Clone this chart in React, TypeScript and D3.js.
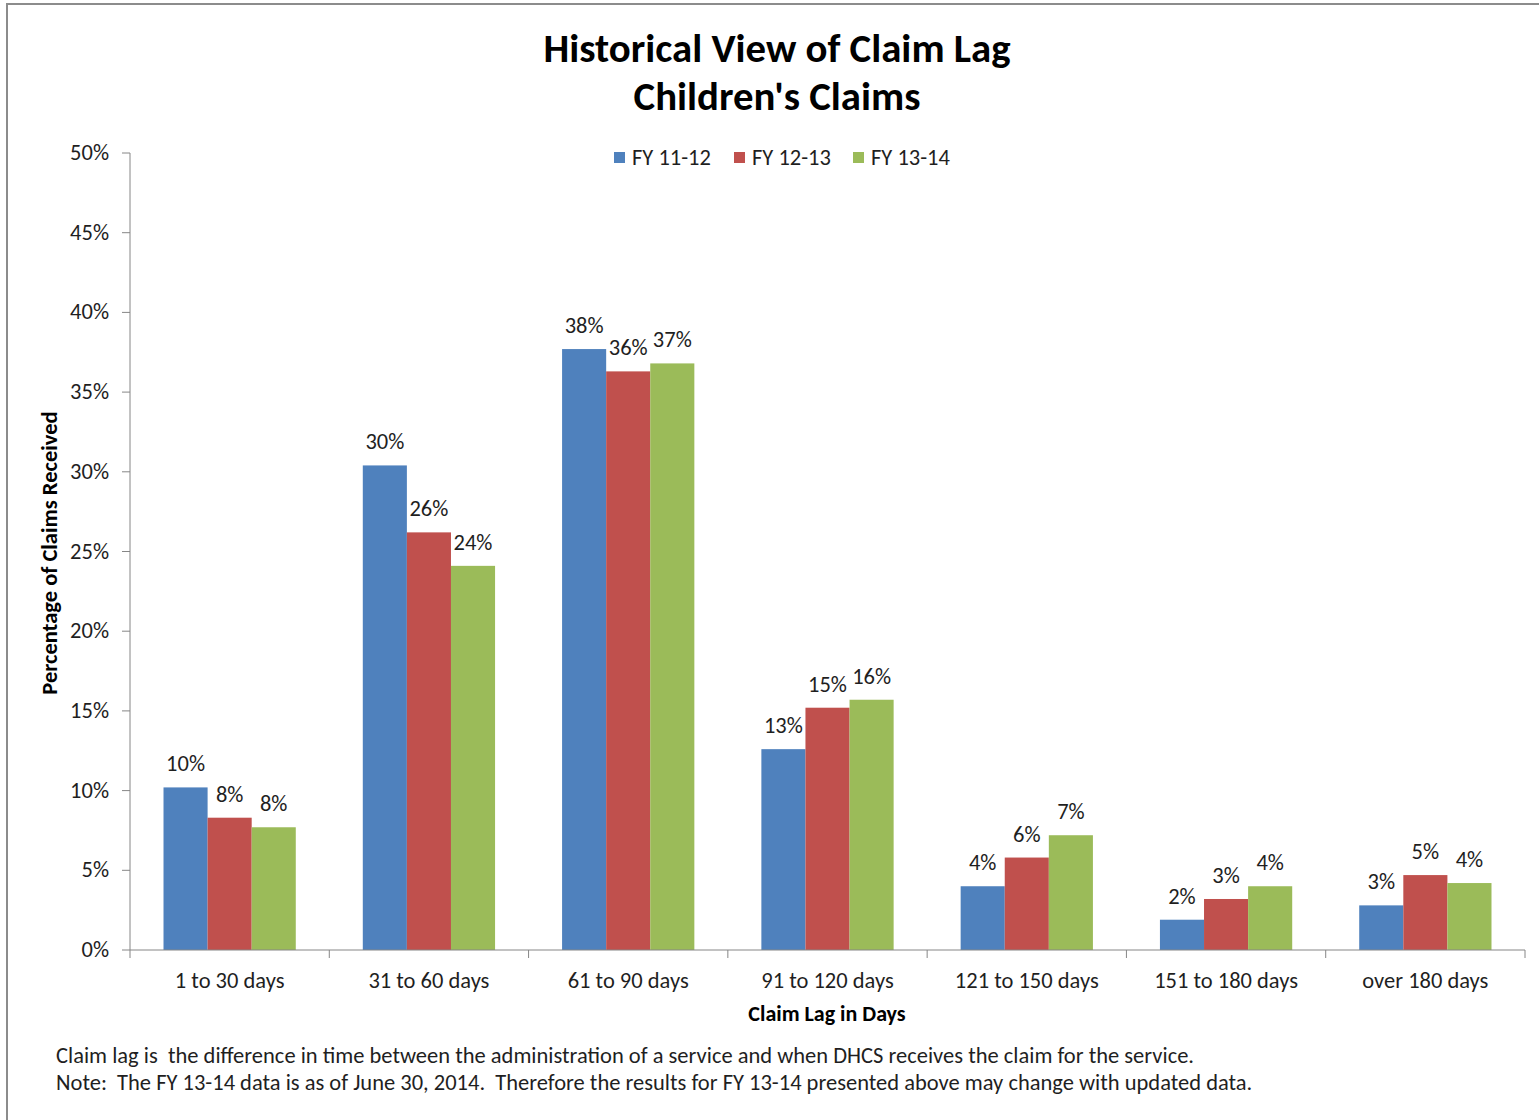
import React from "react";
import * as d3 from "d3";

const categories = ["1 to 30 days", "31 to 60 days", "61 to 90 days", "91 to 120 days", "121 to 150 days", "151 to 180 days", "over 180 days"];
const seriesNames = ["FY 11-12", "FY 12-13", "FY 13-14"];
const fy1112 = [10.2, 30.4, 37.7, 12.6, 4.0, 1.9, 2.8];
const fy1213 = [8.3, 26.2, 36.3, 15.2, 5.8, 3.2, 4.7];
const fy1314 = [7.7, 24.1, 36.8, 15.7, 7.2, 4.0, 4.2];
const colors = ["#4F81BD", "#C0504D", "#9BBB59"];
const yTicks = [0, 5, 10, 15, 20, 25, 30, 35, 40, 45, 50];
const titleLines = ["Historical View of Claim Lag", "Children's Claims"];
const notes = [
  "Claim lag is  the difference in time between the administration of a service and when DHCS receives the claim for the service.",
  "Note:  The FY 13-14 data is as of June 30, 2014.  Therefore the results for FY 13-14 presented above may change with updated data.",
];

const FONT = "Carlito, 'Liberation Sans', Arial, sans-serif";
const TXT = "#1f1f1f";

export default function App() {
  const W = 1539, H = 1120;
  const left = 130, right = 1525, top = 153, bottom = 950;
  const y = d3.scaleLinear().domain([0, 50]).range([bottom, top]);
  const x = d3.scaleBand<string>().domain(categories).range([left, right]).paddingInner(0).paddingOuter(0);
  const xs = d3.scaleBand<string>().domain(seriesNames).range([0, x.bandwidth()]).paddingInner(0).paddingOuter(0.76);
  const data = [fy1112, fy1213, fy1314];
  const fmt = (v: number) => d3.format(".0%")(v / 100);
  const boundaries = categories.map((c) => x(c)!).concat([right]);
  const legendX = [614, 734, 853];

  return (
    <svg width={W} height={H} style={{ position: "absolute", left: 0, top: 0, background: "#fff" }} fontFamily={FONT}>
      <rect x={0} y={0} width={W} height={H} fill="#fff" />
      <rect x={7} y={4} width={W + 50} height={H + 50} fill="none" stroke="#8c8c8c" strokeWidth={2} />
      {titleLines.map((t, i) => (
        <text key={t} x={777} y={62 + i * 48} textAnchor="middle" fontSize={40.8} fontWeight="bold" fill="#000">{t}</text>
      ))}
      {/* legend */}
      {seriesNames.map((s, i) => (
        <g key={s}>
          <rect x={legendX[i]} y={152} width={11} height={11} fill={colors[i]} />
          <text x={legendX[i] + 18} y={165} fontSize={22.5} fill={TXT}>{s}</text>
        </g>
      ))}
      {/* y axis */}
      <line x1={left} x2={left} y1={top} y2={bottom} stroke="#868686" />
      {yTicks.map((t) => (
        <g key={t}>
          <line x1={left - 8} x2={left} y1={y(t)} y2={y(t)} stroke="#868686" />
          <text x={109} y={y(t) + 7} textAnchor="end" fontSize={22.5} fill={TXT}>{t + "%"}</text>
        </g>
      ))}
      <text transform={`translate(57,553) rotate(-90)`} textAnchor="middle" fontSize={22.5} fontWeight="bold" fill="#000">Percentage of Claims Received</text>
      {/* bars */}
      {categories.map((c, ci) => (
        <g key={c}>
          {seriesNames.map((s, si) => {
            const v = data[si][ci];
            const bx = x(c)! + xs(s)!;
            return (
              <g key={s}>
                <rect x={bx} y={y(v)} width={xs.bandwidth()} height={bottom - y(v)} fill={colors[si]} />
                <text x={bx + xs.bandwidth() / 2} y={y(v) - 16} textAnchor="middle" fontSize={22.5} fill={TXT}>{fmt(v)}</text>
              </g>
            );
          })}
        </g>
      ))}
      {/* x axis */}
      <line x1={left} x2={right} y1={bottom} y2={bottom} stroke="#868686" />
      {boundaries.map((b, i) => (
        <line key={i} x1={b} x2={b} y1={bottom} y2={bottom + 8} stroke="#868686" />
      ))}
      {categories.map((c) => (
        <text key={c} x={x(c)! + x.bandwidth() / 2} y={988} textAnchor="middle" fontSize={22.5} fill={TXT}>{c}</text>
      ))}
      <text x={827} y={1021} textAnchor="middle" fontSize={22} fontWeight="bold" fill="#000">Claim Lag in Days</text>
      {notes.map((n, i) => (
        <text key={i} x={56} y={1063 + i * 27} fontSize={22.5} fill={TXT} style={{ whiteSpace: "pre" }}>{n}</text>
      ))}
    </svg>
  );
}
